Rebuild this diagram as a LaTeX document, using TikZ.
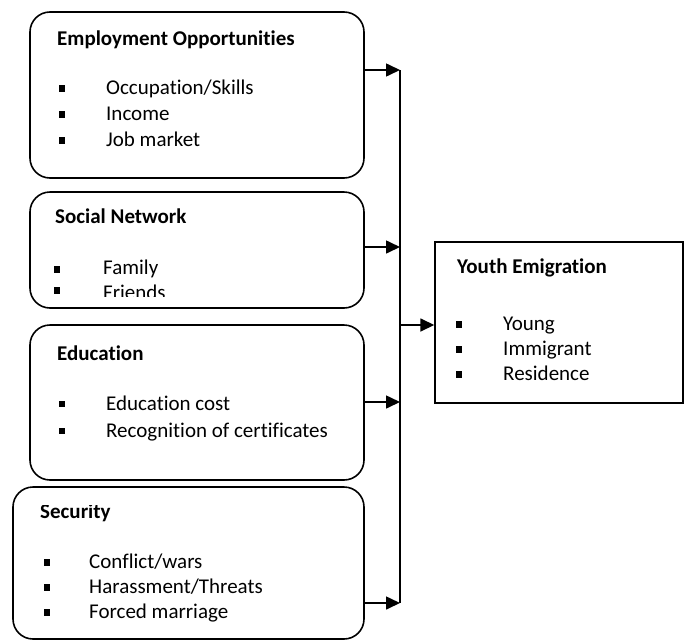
\documentclass[tikz,border=0pt]{standalone}
\usepackage{fontspec}
\setmainfont{Carlito}[Ligatures=NoCommon]
\usetikzlibrary{arrows.meta,positioning}

\tikzset{
    factor/.style={draw, line width=1.6pt, rounded corners=20pt, inner sep=0pt},
    outcome/.style={draw, line width=1.4pt, inner sep=0pt},
    heading/.style={anchor=base west, inner sep=0pt, font=\fontsize{21}{25}\selectfont\bfseries},
    item/.style={anchor=base west, inner sep=0pt, font=\fontsize{21}{25}\selectfont},
    bullet/.style={fill, minimum size=6.5pt, inner sep=0pt},
    feed/.style={line width=1.6pt, -{Triangle[length=14pt,width=13pt]}}
}

\begin{document}
\begin{tikzpicture}[x=1pt, y=-1pt]
    \useasboundingbox (0,0) rectangle (687,640);

    % Define the factor boxes
    \node [factor, minimum width=334pt, minimum height=166pt] (emp) at (197,95) {};
    \node [factor, minimum width=334pt, minimum height=116pt] (soc) at (197,250) {};
    \node [factor, minimum width=334pt, minimum height=155pt] (edu) at (197,402.5) {};
    \node [factor, minimum width=351pt, minimum height=152pt] (sec) at (188.5,563) {};

    % Define the outcome box
    \node [outcome, minimum width=248pt, minimum height=161pt] (youth) at (559,322.5) {};

    % Employment Opportunities
    \node [heading] (emp-title) at (57,45) {Employment Opportunities};
    \foreach \txt [count=\i] in {Occupation/Skills, Income, Job market} {
            \node [bullet] (emp-b\i) at (62,{88.5+26*(\i-1)}) {};
            \node [item] (emp-\i) at (106,{94+26*(\i-1)}) {\txt};
        }

    % Social Network (last line cut off by the box)
    \node [heading] (soc-title) at (55,223) {Social Network};
    \begin{scope}
        \clip (30,192) rectangle (364,296);
        \foreach \txt [count=\i] in {Family, Friends} {
                \node [bullet] (soc-b\i) at (57,{269.5+21*(\i-1)}) {};
                \node [item] (soc-\i) at (103,{274+25*(\i-1)}) {\txt};
            }
    \end{scope}

    % Education
    \node [heading] (edu-title) at (57,360) {Education};
    \foreach \txt [count=\i] in {Education cost, Recognition of certificates} {
            \node [bullet] (edu-b\i) at (62,{404+27*(\i-1)}) {};
            \node [item] (edu-\i) at (106,{410+27*(\i-1)}) {\txt};
        }

    % Security (heading cut off at the top)
    \begin{scope}
        \clip (13,505.5) rectangle (364,530);
        \node [heading] (sec-title) at (40,518) {Security};
    \end{scope}
    \foreach \txt [count=\i] in {Conflict/wars, Harassment/Threats, Forced marriage} {
            \node [bullet] (sec-b\i) at (47,{562.5+25*(\i-1)}) {};
            \node [item] (sec-\i) at (89,{568+25*(\i-1)}) {\txt};
        }

    % Youth Emigration
    \node [heading] (youth-title) at (457,273) {Youth Emigration};
    \foreach \txt [count=\i] in {Young, Immigrant, Residence} {
            \node [bullet] (youth-b\i) at (459,{324.5+25*(\i-1)}) {};
            \node [item] (youth-\i) at (503,{330+25*(\i-1)}) {\txt};
        }

    % Collector line and arrows
    \coordinate (bus1) at (400,70);
    \coordinate (bus2) at (400,247);
    \coordinate (bus3) at (400,402);
    \coordinate (bus4) at (400,603);
    \coordinate (busout) at (400,325);

    \draw [line width=1.4pt] (bus1) -- (bus4);
    \draw [feed] (emp.east |- bus1) -- (bus1);
    \draw [feed] (soc.east |- bus2) -- (bus2);
    \draw [feed] (edu.east |- bus3) -- (bus3);
    \draw [feed] (sec.east |- bus4) -- (bus4);
    \draw [feed] (busout) -- (youth.west |- busout);

\end{tikzpicture}
\end{document}
